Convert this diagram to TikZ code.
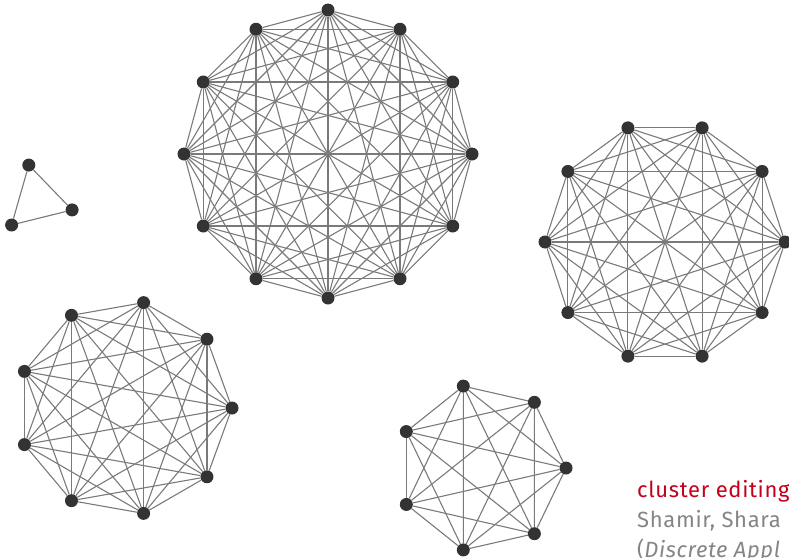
\documentclass[tikz,border=0pt]{standalone}
\usepackage{fontspec}
\setmainfont{Fira Sans}
\usetikzlibrary{backgrounds}
\definecolor{edgegray}{HTML}{7A7A7A}
\definecolor{dotgray}{HTML}{333333}
\definecolor{clusterred}{HTML}{C4001A}
\definecolor{textgray}{HTML}{858585}
\tikzset{
  vdot/.style={circle,fill=dotgray,inner sep=0pt,minimum size=13pt},
  cedge/.style={draw=edgegray,line width=1.1pt},
  reftext/.style={anchor=base west,inner sep=0pt,font=\fontsize{22}{26}\selectfont\addfontfeatures{LetterSpace=3}}
}
\newcommand\cliquedraw[6]{%
  \foreach \i in {1,...,#2}{%
    \node[vdot] (#1\i) at ({#3+#5*cos(#6+360*(\i-1)/#2)},{#4-#5*sin(#6+360*(\i-1)/#2)}) {};}
  \begin{pgfonlayer}{background}
  \foreach \i in {1,...,#2}{\foreach \j in {\i,...,#2}{\ifnum\j>\i\relax \draw[cedge] (#1\i) -- (#1\j);\fi}}
  \end{pgfonlayer}}
\begin{document}
\begin{tikzpicture}[x=1pt,y=-1pt]
\path[use as bounding box] (0,0) rectangle (789,557);
\clip (0,0) rectangle (789,557);
\cliquedraw{A}{12}{328}{154}{144}{90}
\cliquedraw{B}{10}{665}{242}{120}{0}
\cliquedraw{C}{9}{125}{408}{107}{0}
\cliquedraw{D}{7}{482}{468}{84}{0}
\cliquedraw{E}{3}{37.5}{200}{36}{-16}
\node[reftext,text=clusterred] (t1) at (637,497) {cluster editing};
\node[reftext,text=textgray] (t2) at (637,527) {Shamir, Shara};
\node[reftext,text=textgray] (t3) at (637,557) {(\textit{Discrete Appl}};
\end{tikzpicture}
\end{document}
